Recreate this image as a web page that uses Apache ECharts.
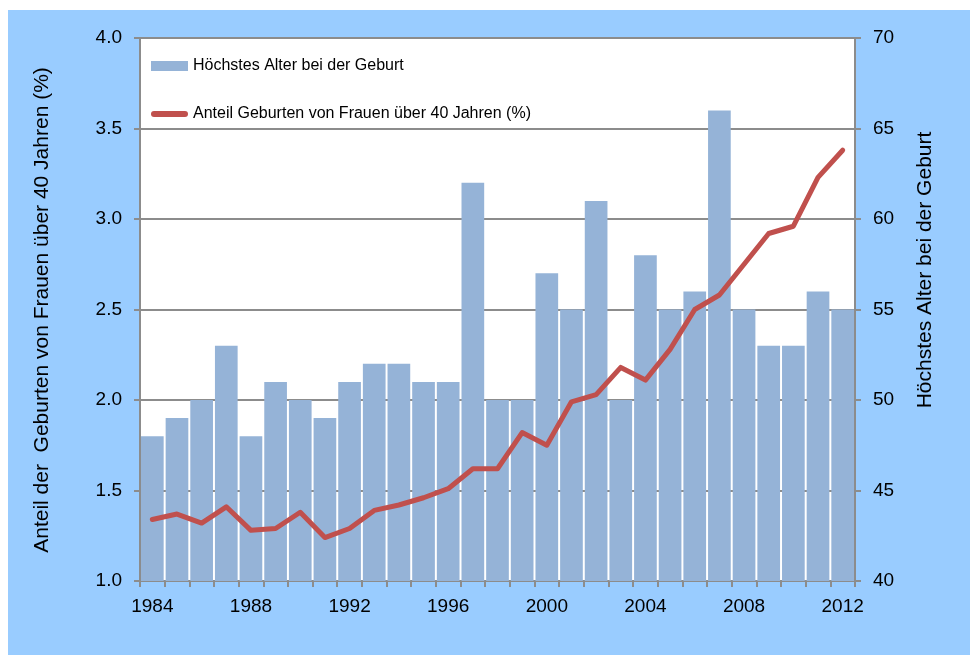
<!DOCTYPE html>
<html>
<head>
<meta charset="utf-8">
<script src="https://cdn.jsdelivr.net/npm/echarts@6/dist/echarts.min.js"></script>
<style>
  html, body { margin: 0; padding: 0; background: #ffffff; }
  #chart { width: 970px; height: 655px; }
</style>
</head>
<body>
<div id="chart"></div>
<script>
const years = ['1984','1985','1986','1987','1988','1989','1990','1991','1992','1993','1994','1995','1996','1997','1998','1999','2000','2001','2002','2003','2004','2005','2006','2007','2008','2009','2010','2011','2012'];
const hoechstesAlter = [48,49,50,53,48,51,50,49,51,52,52,51,51,62,50,50,57,55,61,50,58,55,56,66,55,53,53,56,55];
const anteilUeber40 = [1.34,1.37,1.32,1.41,1.28,1.29,1.38,1.24,1.29,1.39,1.42,1.46,1.51,1.62,1.62,1.82,1.75,1.99,2.03,2.18,2.11,2.28,2.50,2.58,2.75,2.92,2.96,3.23,3.38];
const leftTicks = { min: 1, max: 4, step: 0.5 };
const rightTicks = { min: 40, max: 70, step: 5 };
const nameBar = 'Höchstes Alter bei der Geburt';
const nameLine = 'Anteil Geburten von Frauen über 40 Jahren (%)';
const leftTitle = 'Anteil der  Geburten von Frauen über 40 Jahren (%)';
const rightTitle = 'Höchstes Alter bei der Geburt';

const FONT = "'Liberation Sans', Arial, sans-serif";
const GRAY = '#8c8c8c';
const chart = echarts.init(document.getElementById('chart'), null, { renderer: 'canvas' });

chart.setOption({
  backgroundColor: '#ffffff',
  animation: false,
  textStyle: { fontFamily: FONT },
  graphic: [
    { type: 'rect', z: -10, silent: true, shape: { x: 8, y: 10, width: 962, height: 645 }, style: { fill: '#99CCFF' } },
    { type: 'text', x: 42, y: 310, rotation: Math.PI / 2, silent: true,
      style: { text: leftTitle, font: "21px 'Liberation Sans', Arial, sans-serif", fill: '#000', textAlign: 'center', textVerticalAlign: 'middle' } },
    { type: 'text', x: 925, y: 270, rotation: Math.PI / 2, silent: true,
      style: { text: rightTitle, font: "21px 'Liberation Sans', Arial, sans-serif", fill: '#000', textAlign: 'center', textVerticalAlign: 'middle' } }
  ],
  grid: { left: 140, top: 38, width: 715, bottom: 74, show: true, backgroundColor: '#ffffff', borderWidth: 0 },
  legend: {
    orient: 'vertical', left: 151, top: 58, padding: 0, itemGap: 32, itemWidth: 37, itemHeight: 10,
    textStyle: { fontSize: 16, color: '#000', fontFamily: FONT },
    data: [
      { name: nameBar, icon: 'rect' },
      { name: nameLine, icon: 'path://M0,0 M37,10 M3,2 L34,2 A3,3 0 0 1 34,8 L3,8 A3,3 0 0 1 3,2 Z' }
    ]
  },
  xAxis: {
    type: 'category', data: years, boundaryGap: true,
    axisLine: { lineStyle: { color: GRAY, width: 2 } },
    axisTick: { show: true, interval: 0, length: 6, lineStyle: { color: GRAY, width: 2 } },
    axisLabel: { interval: 3, color: '#000', fontSize: 19, margin: 16 },
    splitLine: { show: false }
  },
  yAxis: [
    {
      type: 'value', min: leftTicks.min, max: leftTicks.max, interval: leftTicks.step,
      axisLine: { show: true, lineStyle: { color: GRAY, width: 2 } },
      axisTick: { show: true, length: 6, lineStyle: { color: GRAY, width: 2 } },
      axisLabel: { color: '#000', fontSize: 19, margin: 18, formatter: v => v.toFixed(1) },
      splitLine: { show: true, lineStyle: { color: GRAY, width: 2 } }
    },
    {
      type: 'value', min: rightTicks.min, max: rightTicks.max, interval: rightTicks.step, position: 'right',
      axisLine: { show: true, lineStyle: { color: GRAY, width: 2 } },
      axisTick: { show: true, length: 6, lineStyle: { color: GRAY, width: 2 } },
      axisLabel: { color: '#000', fontSize: 19, margin: 18 },
      splitLine: { show: false }
    }
  ],
  series: [
    {
      name: nameBar, type: 'bar', yAxisIndex: 1, data: hoechstesAlter,
      barCategoryGap: '8%', itemStyle: { color: '#95B3D7' }, z: 2
    },
    {
      name: nameLine, type: 'line', yAxisIndex: 0, data: anteilUeber40,
      symbol: 'none', lineStyle: { color: '#C0504D', width: 5, cap: 'round', join: 'round' },
      itemStyle: { color: '#C0504D' }, z: 3
    }
  ]
});
</script>
</body>
</html>
